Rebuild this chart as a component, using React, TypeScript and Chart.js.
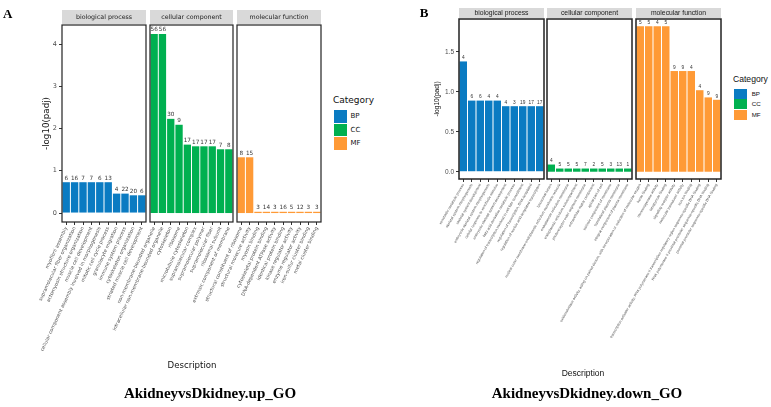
import { useEffect, useRef } from "react";
import { Chart, registerables } from "chart.js";

Chart.register(...registerables);

// Category colours
const categoryNames = ["BP", "CC", "MF"];
const categoryColors = ["#0a7bc2", "#00b050", "#ff9a36"];
const facetTitles = ["biological process", "cellular component", "molecular function"];

// ---- AkidneyvsDkidney.up_GO ----
const upBpTerms = [
  "myofibril assembly",
  "supramolecular fiber organization",
  "actomyosin structure organization",
  "muscle cell development",
  "cellular component assembly involved in morphogenesis",
  "mitotic cell cycle process",
  "granulocyte migration",
  "immune system process",
  "cytoskeleton organization",
  "striated muscle cell development",
];
const upBpPadj = [0.73, 0.73, 0.73, 0.73, 0.73, 0.73, 0.46, 0.46, 0.42, 0.42];
const upBpCounts = [6, 16, 7, 7, 6, 13, 4, 22, 20, 6];

const upCcTerms = [
  "non-membrane-bounded organelle",
  "intracellular non-membrane-bounded organelle",
  "cytoskeleton",
  "ribosome",
  "microtubule cytoskeleton",
  "supramolecular complex",
  "supramolecular polymer",
  "supramolecular fiber",
  "ribosomal subunit",
  "extrinsic component of membrane",
];
const upCcPadj = [4.24, 4.24, 2.23, 2.09, 1.62, 1.58, 1.58, 1.58, 1.51, 1.51];
const upCcCounts = [56, 56, 30, 9, 17, 17, 17, 17, 7, 8];

const upMfTerms = [
  "structural constituent of ribosome",
  "structural molecule activity",
  "myosin binding",
  "cytoskeletal protein binding",
  "DNA-dependent ATPase activity",
  "identical protein binding",
  "kinase regulator activity",
  "enzyme regulator activity",
  "iron-sulfur cluster binding",
  "metal cluster binding",
];
const upMfPadj = [1.32, 1.32, 0.03, 0.03, 0.03, 0.03, 0.03, 0.03, 0.03, 0.03];
const upMfCounts = [8, 15, 3, 14, 3, 16, 5, 12, 3, 3];

// ---- AkidneyvsDkidney.down_GO ----
const downBpTerms = [
  "xenobiotic metabolic process",
  "skeletal system morphogenesis",
  "skeletal system development",
  "embryonic skeletal system morphogenesis",
  "cellular response to xenobiotic stimulus",
  "embryonic skeletal system development",
  "fatty acid derivative metabolic process",
  "regulation of transcription involved in cell fate commitment",
  "regulation of transcription, DNA-templated",
  "regulation of nucleic acid-templated transcription",
];
const downBpPadj = [1.38, 0.89, 0.89, 0.89, 0.89, 0.82, 0.82, 0.82, 0.82, 0.82];
const downBpCounts = [4, 6, 6, 4, 4, 4, 3, 19, 17, 17];

const downCcTerms = [
  "lysosomal lumen",
  "nuclear outer membrane-endoplasmic reticulum membrane network",
  "endoplasmic reticulum membrane",
  "endoplasmic reticulum subcompartment",
  "photoreceptor outer segment membrane",
  "extracellular matrix component",
  "apical part of cell",
  "intrinsic component of membrane",
  "basolateral plasma membrane",
  "integral component of plasma membrane",
];
const downCcPadj = [0.09, 0.04, 0.04, 0.04, 0.04, 0.04, 0.04, 0.04, 0.04, 0.04];
const downCcCounts = [4, 5, 5, 5, 7, 2, 5, 3, 13, 1];

const downMfTerms = [
  "oxidoreductase activity, acting on paired donors, with incorporation or reduction of molecular oxygen",
  "heme binding",
  "monooxygenase activity",
  "tetrapyrrole binding",
  "signaling receptor activity",
  "molecular transducer activity",
  "iron ion binding",
  "transcription activator activity, RNA polymerase II transcription regulatory region sequence-specific DNA binding",
  "RNA polymerase II proximal promoter sequence-specific DNA binding",
  "proximal promoter sequence-specific DNA binding",
];
const downMfPadj = [1.82, 1.82, 1.82, 1.82, 1.26, 1.26, 1.26, 1.02, 0.93, 0.9];
const downMfCounts = [5, 5, 4, 5, 9, 9, 4, 4, 9, 9];

interface PanelLook {
  family: string;
  stripTop: number;
  boxTop: number;
  boxBottom: number;
  yMin: number;
  yMax: number;
  yStep: number;
  yDecimals: number;
  yTickSize: number;
  yTitleSize: number;
  xTickSize: number;
  countSize: number;
  stripSize: number;
  rotation: number;
  labelRoom: number;
  borderWidth: number;
  yAxisWidth: number;
  yCanvasLeft: number;
  sidePad: number;
}

const lookUp: PanelLook = {
  family: "'DejaVu Sans'",
  stripTop: 10,
  boxTop: 25,
  boxBottom: 222,
  yMin: -0.212,
  yMax: 4.452,
  yStep: 1,
  yDecimals: 0,
  yTickSize: 6.5,
  yTitleSize: 8.7,
  xTickSize: 4.8,
  countSize: 5.7,
  stripSize: 6.3,
  rotation: 65,
  labelRoom: 150,
  borderWidth: 1.2,
  yAxisWidth: 20,
  yCanvasLeft: 0,
  sidePad: 80,
};

const lookDown: PanelLook = {
  family: "'Liberation Sans'",
  stripTop: 8,
  boxTop: 19,
  boxBottom: 179,
  yMin: -0.091,
  yMax: 1.911,
  yStep: 0.5,
  yDecimals: 1,
  yTickSize: 6.5,
  yTitleSize: 6.6,
  xTickSize: 3.6,
  countSize: 4.8,
  stripSize: 6.8,
  rotation: 60,
  labelRoom: 195,
  borderWidth: 1.5,
  yAxisWidth: 26,
  yCanvasLeft: 395,
  sidePad: 100,
};

interface FacetProps {
  look: PanelLook;
  strip: string;
  terms: string[];
  values: number[];
  counts: number[];
  color: string;
  left: number;
  right: number;
  withAxis: boolean;
}

function Facet({ look, strip, terms, values, counts, color, left, right, withAxis }: FacetProps) {
  const ref = useRef<HTMLCanvasElement>(null);
  const canvasLeft = withAxis ? look.yCanvasLeft : left - look.sidePad;
  const padLeft = withAxis ? left - look.yCanvasLeft - look.yAxisWidth : look.sidePad;
  const width = right - canvasLeft + 2;
  const height = look.boxBottom - look.stripTop + look.labelRoom;

  useEffect(() => {
    if (!ref.current) return;
    const stripH = look.boxTop - look.stripTop - 1;
    const decor = {
      id: "facetDecor",
      beforeDraw(chart: any) {
        const { ctx, chartArea: a } = chart;
        ctx.save();
        ctx.fillStyle = "#d9d9d9";
        ctx.fillRect(a.left, 0, a.right - a.left, stripH);
        ctx.fillStyle = "#1a1a1a";
        ctx.font = `${look.stripSize}px ${look.family}`;
        ctx.textAlign = "center";
        ctx.textBaseline = "middle";
        ctx.fillText(strip, (a.left + a.right) / 2, stripH / 2 + 0.5);
        ctx.restore();
      },
      afterDatasetsDraw(chart: any) {
        const { ctx } = chart;
        const meta = chart.getDatasetMeta(0);
        ctx.save();
        ctx.fillStyle = "#333333";
        ctx.font = `${look.countSize}px ${look.family}`;
        ctx.textAlign = "center";
        ctx.textBaseline = "bottom";
        meta.data.forEach((bar: any, i: number) => {
          ctx.fillText(String(counts[i]), bar.x, bar.y - 1.2);
        });
        ctx.restore();
      },
      afterDraw(chart: any) {
        const { ctx, chartArea: a } = chart;
        ctx.save();
        ctx.strokeStyle = "#222222";
        ctx.lineWidth = look.borderWidth;
        ctx.strokeRect(a.left, a.top, a.right - a.left, a.bottom - a.top);
        ctx.restore();
      },
    };

    const chart = new Chart(ref.current, {
      type: "bar",
      data: {
        labels: terms,
        datasets: [
          {
            data: values,
            backgroundColor: color,
            borderWidth: 0,
            barPercentage: 1,
            categoryPercentage: 0.88,
          },
        ],
      },
      options: {
        animation: false,
        responsive: false,
        devicePixelRatio: 1,
        layout: {
          padding: { left: padLeft, right: 2, top: look.boxTop - look.stripTop, bottom: 0 },
        },
        plugins: { legend: { display: false }, tooltip: { enabled: false } },
        scales: {
          x: {
            offset: true,
            grid: {
              display: true,
              drawOnChartArea: false,
              drawTicks: true,
              tickLength: 3,
              color: "#333333",
              offset: false,
            },
            border: { display: false },
            ticks: {
              autoSkip: false,
              minRotation: look.rotation,
              maxRotation: look.rotation,
              padding: 1,
              color: "#4d4d4d",
              font: { family: look.family, size: look.xTickSize },
            },
            afterFit: (s: any) => {
              s.height = look.labelRoom;
              s.paddingLeft = 0;
              s.paddingRight = 0;
            },
          },
          y: {
            display: withAxis,
            min: look.yMin,
            max: look.yMax,
            grid: {
              drawOnChartArea: false,
              drawTicks: true,
              tickLength: 3,
              color: "#333333",
            },
            border: { display: false },
            ticks: {
              stepSize: look.yStep,
              includeBounds: false,
              padding: 2,
              color: "#4d4d4d",
              font: { family: look.family, size: look.yTickSize },
              callback: (v: any) => Number(v).toFixed(look.yDecimals),
            },
            title: {
              display: true,
              text: "-log10(padj)",
              color: "#111111",
              font: { family: look.family, size: look.yTitleSize },
              padding: { top: 0, bottom: 0 },
            },
            afterFit: (s: any) => {
              s.width = withAxis ? look.yAxisWidth : 0;
            },
          },
        },
      },
      plugins: [decor],
    } as any);
    return () => chart.destroy();
  }, []);

  return (
    <canvas
      ref={ref}
      width={width}
      height={height}
      style={{ position: "absolute", left: canvasLeft, top: look.stripTop }}
    />
  );
}

interface LegendProps {
  family: string;
  x: number;
  titleTop: number;
  titleSize: number;
  keyTops: number[];
  keyW: number;
  keyH: number;
  textX: number;
  textSize: number;
}

function CategoryLegend({ family, x, titleTop, titleSize, keyTops, keyW, keyH, textX, textSize }: LegendProps) {
  return (
    <>
      <div
        style={{
          position: "absolute",
          left: x,
          top: titleTop,
          fontFamily: family,
          fontSize: titleSize,
          lineHeight: `${titleSize}px`,
          color: "#111",
          whiteSpace: "nowrap",
        }}
      >
        Category
      </div>
      {categoryNames.map((name, i) => (
        <div key={name}>
          <div
            style={{
              position: "absolute",
              left: x + 1,
              top: keyTops[i],
              width: keyW,
              height: keyH,
              background: categoryColors[i],
            }}
          />
          <div
            style={{
              position: "absolute",
              left: textX,
              top: keyTops[i],
              height: keyH,
              fontFamily: family,
              fontSize: textSize,
              lineHeight: `${keyH}px`,
              color: "#111",
            }}
          >
            {name}
          </div>
        </div>
      ))}
    </>
  );
}

const serifBold = {
  position: "absolute" as const,
  fontFamily: "'Liberation Serif'",
  fontWeight: 700,
  color: "#000",
  whiteSpace: "nowrap" as const,
};

export default function App() {
  const upFacets = [
    { terms: upBpTerms, values: upBpPadj, counts: upBpCounts, left: 62, right: 146 },
    { terms: upCcTerms, values: upCcPadj, counts: upCcCounts, left: 150, right: 233 },
    { terms: upMfTerms, values: upMfPadj, counts: upMfCounts, left: 237, right: 321 },
  ];
  const downFacets = [
    { terms: downBpTerms, values: downBpPadj, counts: downBpCounts, left: 459, right: 544 },
    { terms: downCcTerms, values: downCcPadj, counts: downCcCounts, left: 547, right: 632 },
    { terms: downMfTerms, values: downMfPadj, counts: downMfCounts, left: 636, right: 721 },
  ];

  return (
    <div
      style={{
        position: "absolute",
        left: 0,
        top: 0,
        width: 771,
        height: 407,
        background: "#fff",
        overflow: "hidden",
      }}
    >
      {upFacets.map((f, i) => (
        <Facet
          key={`up${i}`}
          look={lookUp}
          strip={facetTitles[i]}
          color={categoryColors[i]}
          withAxis={i === 0}
          {...f}
        />
      ))}
      {downFacets.map((f, i) => (
        <Facet
          key={`down${i}`}
          look={lookDown}
          strip={facetTitles[i]}
          color={categoryColors[i]}
          withAxis={i === 0}
          {...f}
        />
      ))}

      <CategoryLegend
        family="'DejaVu Sans'"
        x={333}
        titleTop={96.4}
        titleSize={9}
        keyTops={[110, 123.5, 137]}
        keyW={13}
        keyH={12.8}
        textX={350.5}
        textSize={7}
      />
      <CategoryLegend
        family="'Liberation Sans'"
        x={733}
        titleTop={75.2}
        titleSize={8.6}
        keyTops={[88.5, 99.2, 109.9]}
        keyW={13}
        keyH={10.3}
        textX={751.7}
        textSize={6.2}
      />

      <div
        style={{
          position: "absolute",
          left: 192,
          top: 360.7,
          transform: "translateX(-50%)",
          fontFamily: "'DejaVu Sans'",
          fontSize: 8.6,
          lineHeight: "8.6px",
          color: "#111",
        }}
      >
        Description
      </div>
      <div
        style={{
          position: "absolute",
          left: 583,
          top: 369.3,
          transform: "translateX(-50%)",
          fontFamily: "'Liberation Sans'",
          fontSize: 8.5,
          lineHeight: "8.5px",
          color: "#111",
        }}
      >
        Description
      </div>

      <div style={{ ...serifBold, left: 3, top: 7.4, fontSize: 13, lineHeight: "13px" }}>A</div>
      <div style={{ ...serifBold, left: 419.7, top: 6, fontSize: 13, lineHeight: "13px" }}>B</div>

      <div
        style={{
          ...serifBold,
          left: 210,
          top: 385.5,
          transform: "translateX(-50%)",
          fontSize: 15,
          lineHeight: "15px",
        }}
      >
        AkidneyvsDkidney.up_GO
      </div>
      <div
        style={{
          ...serifBold,
          left: 587,
          top: 385.5,
          transform: "translateX(-50%)",
          fontSize: 15,
          lineHeight: "15px",
        }}
      >
        AkidneyvsDkidney.down_GO
      </div>
    </div>
  );
}
